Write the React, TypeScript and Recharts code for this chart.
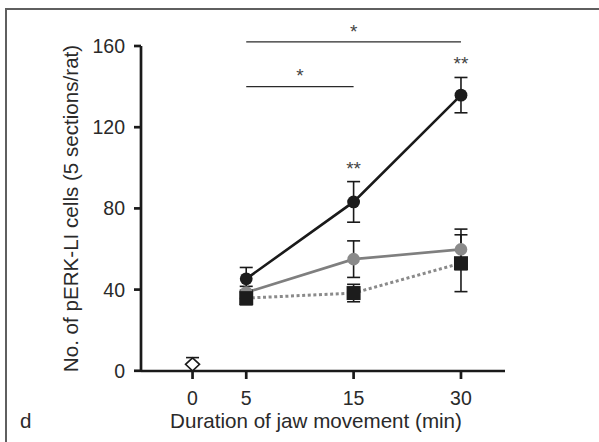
import React from 'react';
import { ComposedChart, Line, XAxis, YAxis, ErrorBar, ReferenceLine, ReferenceDot } from 'recharts';

const durations = ['0', '5', '15', '30'];
const durationSlots = [0, 1, 3, 5];
const controlMean = [3.2, null, null, null];
const controlSem = [3.3, null, null, null];
const blackMean = [null, 45.3, 83.2, 135.8];
const blackSem = [null, 5.6, 10, 8.7];
const grayMean = [null, 38.6, 55, 59.8];
const graySem = [null, 3, 9, 10];
const squareMean = [null, 35.8, 38.3, 53];
const squareSem = [null, 3.3, 4.3, 14];
const yTicks = [0, 40, 80, 120, 160];

const sigBars = [
  { from: '5', to: '30', level: 162, mark: '*' },
  { from: '5', to: '15', level: 140, mark: '*' },
];
const pointMarks = [
  { at: '15', level: 96.5, mark: '**' },
  { at: '30', level: 148.2, mark: '**' },
];

const FONT = '"Liberation Sans", Arial, Helvetica, sans-serif';
const slotOf = (d: string) => durationSlots[durations.indexOf(d)];

const data = durations.map((d, i) => ({
  slot: durationSlots[i],
  control: controlMean[i],
  controlErr: controlSem[i],
  black: blackMean[i],
  blackErr: blackSem[i],
  gray: grayMean[i],
  grayErr: graySem[i],
  square: squareMean[i],
  squareErr: squareSem[i],
}));

const ok = (p: any) => p && p.cx != null && p.cy != null && !isNaN(p.cx) && !isNaN(p.cy) && p.value != null;

const blackDot = (p: any) =>
  ok(p) ? <circle key={`b${p.index}`} cx={p.cx} cy={p.cy} r={6.4} fill="#1c1c1c" /> : <g key={`b${p.index}`} />;
const grayDot = (p: any) =>
  ok(p) ? <circle key={`g${p.index}`} cx={p.cx} cy={p.cy} r={6.3} fill="#8a8a8a" /> : <g key={`g${p.index}`} />;
const squareDot = (p: any) =>
  ok(p) ? <rect key={`s${p.index}`} x={p.cx - 7} y={p.cy - 7} width={14} height={14} fill="#1c1c1c" /> : <g key={`s${p.index}`} />;
const diamondDot = (p: any) =>
  ok(p) ? (
    <polygon
      key={`d${p.index}`}
      points={`${p.cx},${p.cy - 6.5} ${p.cx + 7},${p.cy} ${p.cx},${p.cy + 6.5} ${p.cx - 7},${p.cy}`}
      fill="#fff"
      stroke="#1a1a1a"
      strokeWidth={1.6}
    />
  ) : <g key={`d${p.index}`} />;

const YTitle = (props: any) => {
  const vb = props.viewBox;
  const x = vb.x + 78.3;
  const y = vb.y + vb.height / 2;
  return (
    <text x={x} y={y} transform={`rotate(-90, ${x}, ${y})`} textAnchor="middle" fontSize={20.6} fill="#2a2a2a" fontFamily={FONT}>
      No. of pERK-LI cells (5 sections/rat)
    </text>
  );
};

const XTitle = (props: any) => {
  const vb = props.viewBox;
  return (
    <g>
      <text x={vb.x + 175} y={vb.y + 57} textAnchor="middle" fontSize={20.6} fill="#2a2a2a" fontFamily={FONT}>
        Duration of jaw movement (min)
      </text>
      <text x={20} y={vb.y + 57} textAnchor="start" fontSize={20.6} fill="#2a2a2a" fontFamily={FONT}>
        d
      </text>
    </g>
  );
};

const StarLabel = (mark: string) => (props: any) => {
  const vb = props.viewBox;
  return (
    <text x={vb.x + (vb.width || 0) / 2} y={vb.y - 4.4} textAnchor="middle" fontSize={19} fill="#444" fontFamily={FONT}>
      {mark}
    </text>
  );
};

const PointStar = (mark: string) => (props: any) => {
  const vb = props.viewBox;
  return (
    <text x={vb.x + (vb.width || 0) / 2} y={vb.y + (vb.height || 0) / 2} textAnchor="middle" fontSize={19} fill="#444" fontFamily={FONT}>
      {mark}
    </text>
  );
};

export default function App() {
  const axisStroke = { stroke: '#1a1a1a', strokeWidth: 2.7 };
  return (
    <div style={{ position: 'absolute', left: 0, top: 0, width: 599, height: 442, background: '#fff' }}>
      <div style={{ position: 'absolute', left: 5, top: 8, width: 594, height: 2, background: '#5f5f5f' }} />
      <div style={{ position: 'absolute', left: 5, top: 8, width: 2, height: 434, background: '#5f5f5f' }} />
      <ComposedChart width={599} height={442} data={data} margin={{ top: 46, right: 94, bottom: 0, left: 0 }}>
        <XAxis
          type="number"
          dataKey="slot"
          domain={[-0.96, 5.82]}
          ticks={durationSlots}
          interval={0}
          tickFormatter={(v: number) => durations[durationSlots.indexOf(v)]}
          height={71}
          axisLine={axisStroke}
          tickLine={axisStroke}
          tickSize={8}
          tickMargin={12}
          tick={{ fontSize: 19.5, fill: '#2a2a2a', fontFamily: FONT }}
          label={{ content: XTitle } as any}
        />
        <YAxis
          type="number"
          domain={[0, 160]}
          ticks={yTicks}
          interval={0}
          width={141}
          axisLine={axisStroke}
          tickLine={axisStroke}
          tickSize={7}
          tickMargin={9}
          tick={{ fontSize: 19.5, fill: '#2a2a2a', fontFamily: FONT }}
          label={{ content: YTitle } as any}
        />
        {sigBars.map((b, i) => (
          <ReferenceLine
            key={`sig${i}`}
            segment={[{ x: slotOf(b.from), y: b.level }, { x: slotOf(b.to), y: b.level }]}
            stroke="#2a2a2a"
            strokeWidth={1.3}
            ifOverflow="visible"
            label={{ content: StarLabel(b.mark) } as any}
          />
        ))}
        {pointMarks.map((m, i) => (
          <ReferenceDot
            key={`pm${i}`}
            x={slotOf(m.at)}
            y={m.level}
            r={0}
            fill="none"
            stroke="none"
            ifOverflow="visible"
            label={{ content: PointStar(m.mark) } as any}
          />
        ))}
        <Line dataKey="control" stroke="none" dot={diamondDot} activeDot={false} isAnimationActive={false} legendType="none">
          <ErrorBar dataKey="controlErr" direction="y" width={6.5} stroke="#1a1a1a" strokeWidth={1.6} />
        </Line>
        <Line dataKey="gray" stroke="#7f7f7f" strokeWidth={2.6} dot={grayDot} activeDot={false} isAnimationActive={false}>
          <ErrorBar dataKey="grayErr" direction="y" width={6.5} stroke="#1a1a1a" strokeWidth={1.6} />
        </Line>
        <Line dataKey="square" stroke="#8a8a8a" strokeWidth={3} strokeDasharray="3 2.6" dot={squareDot} activeDot={false} isAnimationActive={false}>
          <ErrorBar dataKey="squareErr" direction="y" width={6.5} stroke="#1a1a1a" strokeWidth={1.6} />
        </Line>
        <Line dataKey="black" stroke="#1a1a1a" strokeWidth={2.6} dot={blackDot} activeDot={false} isAnimationActive={false}>
          <ErrorBar dataKey="blackErr" direction="y" width={6.5} stroke="#1a1a1a" strokeWidth={1.6} />
        </Line>
      </ComposedChart>
    </div>
  );
}
